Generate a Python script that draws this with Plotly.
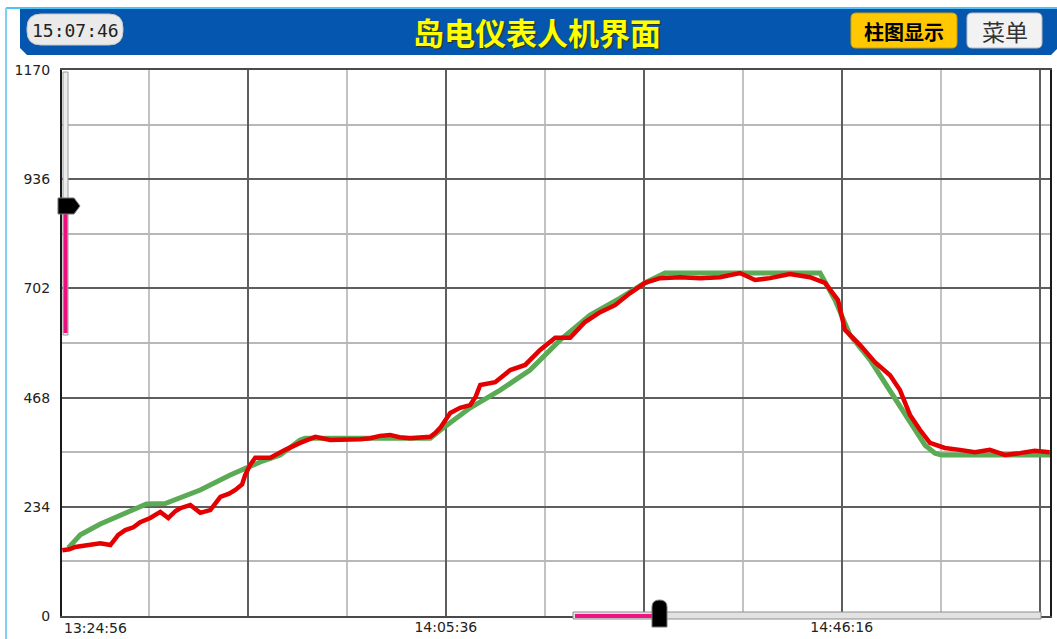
import pandas as pd
import plotly.graph_objects as go

# ---------------- data ----------------
window_start = "2024-01-01 13:26:10"
window_seconds = 6090
clock_text = "15:07:46"
title_text = "岛电仪表人机界面"
button_labels = ["柱图显示", "菜单"]

y_ticks = [0, 234, 468, 702, 936, 1170]
y_minor = [117, 351, 585, 819, 1053]
x_major_times = ["13:45:16", "14:05:36", "14:25:56", "14:46:16", "15:06:36"]
x_major_labels = ["", "14:05:36", "", "14:46:16", ""]
x_minor_times = ["13:35:06", "13:55:26", "14:15:46", "14:36:06", "14:56:26"]
first_label = "13:24:56"

# setpoint (green) : seconds since window start, value
sv_t = [39, 113, 236, 359, 482, 520, 636, 852, 1037, 1222, 1345, 1468, 1499,
        2270, 2331, 2516, 2701, 2885, 3070, 3255, 3440, 3594, 3717, 4673,
        4765, 4857, 4981, 5104, 5227, 5320, 5381, 5420, 6090]
sv_v = [146, 174, 197, 216, 236, 240, 241, 270, 302, 330, 345, 377, 381,
        381, 398, 446, 484, 527, 591, 645, 681, 714, 735, 735,
        677, 602, 549, 484, 420, 366, 349, 345, 345]

# process value (red)
pv_t = [2, 45, 82, 130, 174, 236, 298, 330, 347, 390, 440, 482, 544, 606,
        630, 655, 700, 729, 791, 830, 852, 914, 976, 1030, 1068, 1110, 1129,
        1160, 1191, 1284, 1330, 1376, 1468, 1561, 1653, 1776, 1840, 1900,
        1960, 2023, 2080, 2146, 2270, 2300, 2331, 2393, 2420, 2454, 2516,
        2550, 2578, 2670, 2763, 2855, 2947, 3040, 3132, 3224, 3317, 3409,
        3502, 3594, 3686, 3810, 3933, 4056, 4179, 4230, 4272, 4364, 4487,
        4610, 4703, 4783, 4826, 4918, 5011, 5104, 5165, 5227, 5288, 5350,
        5442, 5534, 5627, 5719, 5812, 5904, 5996, 6088]
pv_v = [141, 143, 148, 150, 152, 156, 152, 165, 174, 184, 190, 201, 210, 223,
        218, 210, 225, 231, 238, 228, 221, 227, 255, 262, 270, 282, 302,
        324, 339, 339, 348, 356, 371, 384, 377, 377, 379, 381,
        386, 388, 383, 381, 384, 392, 403, 435, 440, 446, 452,
        470, 495, 501, 527, 538, 570, 596, 596, 630, 651, 666,
        692, 714, 724, 726, 724, 726, 735, 726, 720, 724, 733,
        726, 714, 677, 613, 581, 544, 516, 484, 431, 399, 371,
        360, 356, 351, 356, 345, 349, 354, 351]

# ---------------- helpers ----------------
W, H = 1057, 639
L, R, T, B = 62, 7, 70, 23
PW, PH = W - L - R, H - T - B


def px(x):
    return (x - L) / PW


def py(y):
    return (H - B - y) / PH


def path(points, close=True):
    s = "M " + " L ".join(f"{px(x):.5f},{py(y):.5f}" for x, y in points)
    return s + (" Z" if close else "")


def rrect(x0, y0, x1, y1, r):
    P = lambda x, y: f"{px(x):.5f},{py(y):.5f}"
    return (f"M {P(x0 + r, y0)} L {P(x1 - r, y0)} Q {P(x1, y0)} {P(x1, y0 + r)} "
            f"L {P(x1, y1 - r)} Q {P(x1, y1)} {P(x1 - r, y1)} "
            f"L {P(x0 + r, y1)} Q {P(x0, y1)} {P(x0, y1 - r)} "
            f"L {P(x0, y0 + r)} Q {P(x0, y0)} {P(x0 + r, y0)} Z")


day = window_start.split(" ")[0]
t0 = pd.Timestamp(window_start)
sv_x = [t0 + pd.Timedelta(seconds=s) for s in sv_t]
pv_x = [t0 + pd.Timedelta(seconds=s) for s in pv_t]
x_range = [t0, t0 + pd.Timedelta(seconds=window_seconds)]

fig = go.Figure()
fig.add_trace(go.Scatter(x=sv_x, y=sv_v, mode="lines", name="SV",
                         line=dict(color="#5BAA55", width=5)))
fig.add_trace(go.Scatter(x=pv_x, y=pv_v, mode="lines", name="PV",
                         line=dict(color="#E40000", width=4.5)))

shapes = []
# outer decorations
shapes.append(dict(type="line", xref="paper", yref="paper",
                   x0=px(6), x1=px(1057), y0=py(8), y1=py(8),
                   line=dict(color="#4FC3F7", width=2)))
shapes.append(dict(type="line", xref="paper", yref="paper",
                   x0=px(6), x1=px(6), y0=py(8), y1=py(639),
                   line=dict(color="#7FD0F5", width=2)))
# header bar
shapes.append(dict(type="path", xref="paper", yref="paper",
                   path=path([(20, 9), (1057, 9), (1057, 49), (1051, 55),
                              (27, 55), (20, 48)]),
                   fillcolor="#0456AE", line=dict(width=0)))
# clock pill
shapes.append(dict(type="path", xref="paper", yref="paper",
                   path=rrect(27, 14, 123, 45, 14),
                   fillcolor="#EAEAEA", line=dict(color="#C8C8C8", width=1)))
# buttons
shapes.append(dict(type="path", xref="paper", yref="paper",
                   path=rrect(851, 13, 957, 48, 5),
                   fillcolor="#FFC800", line=dict(color="#D29A00", width=1)))
shapes.append(dict(type="path", xref="paper", yref="paper",
                   path=rrect(967, 13, 1042, 48, 5),
                   fillcolor="#F2F2F2", line=dict(color="#BDBDBD", width=1)))

# left vertical slider
shapes.append(dict(type="rect", xref="paper", yref="paper",
                   x0=px(63), x1=px(68), y0=py(72), y1=py(335),
                   fillcolor="#ECECEC", line=dict(color="#9A9A9A", width=1)))
shapes.append(dict(type="rect", xref="paper", yref="paper",
                   x0=px(63.5), x1=px(67.5), y0=py(212), y1=py(333),
                   fillcolor="#EC0F7E", line=dict(width=0)))
shapes.append(dict(type="path", xref="paper", yref="paper",
                   path=path([(58, 198), (74, 198), (80, 206), (74, 214), (58, 214)]),
                   fillcolor="#000000", line=dict(color="#777777", width=1)))

# bottom horizontal slider
shapes.append(dict(type="rect", xref="paper", yref="paper",
                   x0=px(573), x1=px(1041), y0=py(619), y1=py(612),
                   fillcolor="#E2E2E2", line=dict(color="#8E8E8E", width=1)))
shapes.append(dict(type="rect", xref="paper", yref="paper",
                   x0=px(575), x1=px(652), y0=py(618), y1=py(614),
                   fillcolor="#F01480", line=dict(width=0)))
hp = (f"M {px(652):.5f},{py(627):.5f} L {px(652):.5f},{py(607):.5f} "
      f"Q {px(652):.5f},{py(600):.5f} {px(659.5):.5f},{py(600):.5f} "
      f"Q {px(667):.5f},{py(600):.5f} {px(667):.5f},{py(607):.5f} "
      f"L {px(667):.5f},{py(627):.5f} Z")
shapes.append(dict(type="path", xref="paper", yref="paper", path=hp,
                   fillcolor="#000000", line=dict(color="#777777", width=1)))

annotations = [
    dict(text=clock_text, xref="paper", yref="paper", x=px(75), y=py(30),
         showarrow=False, xanchor="center", yanchor="middle",
         font=dict(family="DejaVu Sans Mono", size=18, color="#222222")),
    dict(text=title_text, xref="paper", yref="paper", x=px(537), y=py(31),
         showarrow=False, xanchor="center", yanchor="middle",
         font=dict(family="Noto Sans CJK SC", size=31, color="#FFFF00",
                   weight="bold", shadow="1px 1px 1px #333300")),
    dict(text=button_labels[0], xref="paper", yref="paper", x=px(904), y=py(31),
         showarrow=False, xanchor="center", yanchor="middle",
         font=dict(family="Noto Sans CJK SC", size=20, color="#000000",
                   weight="bold")),
    dict(text=button_labels[1], xref="paper", yref="paper", x=px(1004.5), y=py(31),
         showarrow=False, xanchor="center", yanchor="middle",
         font=dict(family="Noto Sans CJK SC", size=23, color="#333333")),
    dict(text=first_label, xref="x", yref="paper", x=t0, y=0,
         showarrow=False, xanchor="left", yanchor="top", yshift=-2,
         font=dict(family="DejaVu Sans", size=14, color="#222222")),
]

fig.update_layout(
    width=W, height=H,
    margin=dict(l=L, r=R, t=T, b=B, pad=0, autoexpand=False),
    paper_bgcolor="white", plot_bgcolor="white",
    showlegend=False,
    shapes=shapes,
    annotations=annotations,
    font=dict(family="DejaVu Sans", size=14, color="#222222"),
)
fig.update_xaxes(
    type="date", range=x_range, automargin=False,
    tickmode="array",
    tickvals=[f"{day} {t}" for t in x_major_times],
    ticktext=x_major_labels,
    ticks="", ticklabelstandoff=-3,
    showgrid=True, gridcolor="#5E5E5E", gridwidth=1.5,
    minor=dict(tickmode="array", tickvals=[f"{day} {t}" for t in x_minor_times],
               showgrid=True, gridcolor="#C2C2C2", gridwidth=2),
    showline=True, linecolor="#4A4A4A", linewidth=2, mirror=True,
    zeroline=False,
    tickfont=dict(family="DejaVu Sans", size=14, color="#222222"),
)
fig.update_yaxes(
    range=[0, 1170], automargin=False,
    tickmode="array", tickvals=y_ticks, ticktext=[str(v) for v in y_ticks],
    ticks="", ticklabelstandoff=7,
    showgrid=True, gridcolor="#5E5E5E", gridwidth=1.5,
    minor=dict(tickmode="array", tickvals=y_minor,
               showgrid=True, gridcolor="#B8B8B8", gridwidth=1.5),
    showline=True, linecolor="#1A1A1A", linewidth=2, mirror=True,
    zeroline=False,
    tickfont=dict(family="DejaVu Sans", size=14, color="#222222"),
)

fig.write_html("out.html",
               config={"displayModeBar": False},
               post_script="document.body.style.margin='0';"
                           "document.body.style.overflow='hidden';")
